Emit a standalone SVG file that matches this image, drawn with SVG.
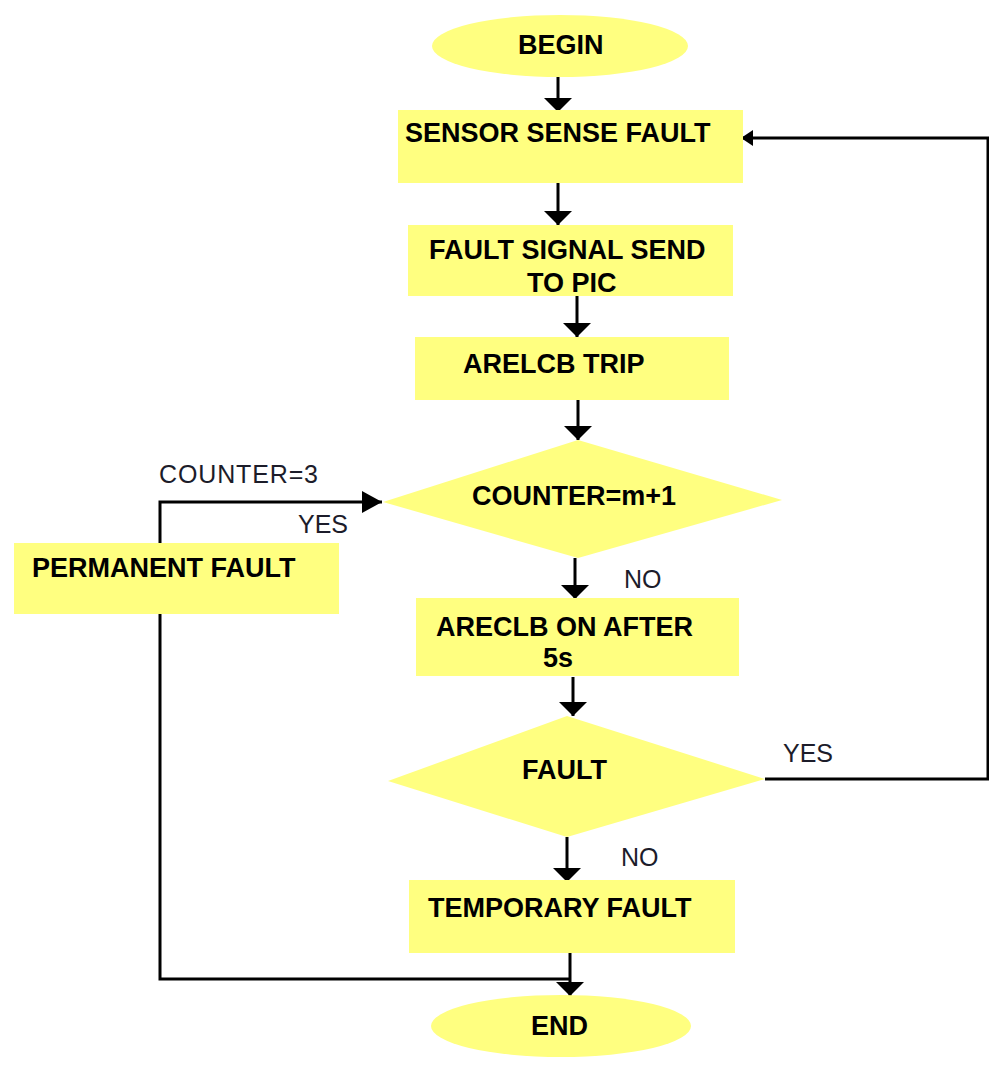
<svg xmlns="http://www.w3.org/2000/svg" width="989" height="1067" viewBox="0 0 989 1067">
  <style>
    .shape { fill: #ffff80; stroke: none; }
    .t { font-family: "Liberation Sans", Arial, sans-serif; font-weight: bold; font-size: 27px; fill: #000; }
    .lbl { font-family: "Liberation Sans", Arial, sans-serif; font-size: 25px; fill: #1c1c2a; }
    .wire { fill: none; stroke: #000; stroke-width: 3; }
  </style>
  <defs>
    <!-- wide flat arrowhead used on the main vertical flow -->
    <marker id="head" markerUnits="userSpaceOnUse" viewBox="0 -14 14 28" markerWidth="14" markerHeight="28" refX="14" refY="0" orient="auto">
      <path d="M0,-14 L14,0 L0,14 z" fill="#000"/>
    </marker>
    <!-- arrowhead entering the counter decision -->
    <marker id="headSide" markerUnits="userSpaceOnUse" viewBox="0 -11 20 22" markerWidth="20" markerHeight="22" refX="20" refY="0" orient="auto">
      <path d="M0,-11 L20,0 L0,11 z" fill="#000"/>
    </marker>
    <!-- small arrowhead on the feedback loop -->
    <marker id="headSmall" markerUnits="userSpaceOnUse" viewBox="0 -8 12 16" markerWidth="12" markerHeight="16" refX="12" refY="0" orient="auto">
      <path d="M0,-8 L12,0 L0,8 z" fill="#000"/>
    </marker>
  </defs>

  <rect width="989" height="1067" fill="#fff"/>

  <g id="connectors">
    <line class="wire" x1="558" y1="77" x2="558" y2="112" marker-end="url(#head)"/>
    <line class="wire" x1="558" y1="183" x2="558" y2="225" marker-end="url(#head)"/>
    <line class="wire" x1="577" y1="296" x2="577" y2="337" marker-end="url(#head)"/>
    <line class="wire" x1="578" y1="400" x2="578" y2="440" marker-end="url(#head)"/>
    <line class="wire" x1="575" y1="558" x2="575" y2="599" marker-end="url(#head)"/>
    <line class="wire" x1="573" y1="677" x2="573" y2="716" marker-end="url(#head)"/>
    <line class="wire" x1="567" y1="837" x2="567" y2="882" marker-end="url(#head)"/>
    <line class="wire" x1="570" y1="953" x2="570" y2="996" marker-end="url(#head)"/>
    <!-- permanent fault loop back into the counter -->
    <path class="wire" d="M160,543 V502 H382" marker-end="url(#headSide)"/>
    <path class="wire" d="M160,614 V979 H570"/>
    <!-- fault still present: back to sensing -->
    <path class="wire" d="M765,779 H988 V138 H741" marker-end="url(#headSmall)"/>
  </g>

  <g id="begin">
    <ellipse class="shape" cx="560" cy="46" rx="128" ry="31"/>
    <text class="t" x="518" y="54">BEGIN</text>
  </g>

  <g id="sensor">
    <rect class="shape" x="398" y="110" width="345" height="73"/>
    <text class="t" x="405" y="142">SENSOR SENSE FAULT</text>
  </g>

  <g id="signal">
    <rect class="shape" x="408" y="225" width="325" height="71"/>
    <text class="t" x="429" y="259">FAULT SIGNAL SEND</text>
    <text class="t" x="527" y="292">TO PIC</text>
  </g>

  <g id="trip">
    <rect class="shape" x="415" y="337" width="314" height="63"/>
    <text class="t" x="463" y="373">ARELCB TRIP</text>
  </g>

  <g id="counter">
    <polygon class="shape" points="383,502 578,440 782,500 578,558"/>
    <text class="t" x="472" y="505">COUNTER=m+1</text>
  </g>

  <g id="permanent">
    <rect class="shape" x="14" y="543" width="325" height="71"/>
    <text class="t" x="32" y="577">PERMANENT FAULT</text>
  </g>

  <g id="reclose">
    <rect class="shape" x="416" y="598" width="323" height="78"/>
    <text class="t" x="436" y="636">ARECLB ON AFTER</text>
    <text class="t" x="543" y="667">5s</text>
  </g>

  <g id="fault">
    <polygon class="shape" points="388,781 567,716 765,779 567,837"/>
    <text class="t" x="522" y="779">FAULT</text>
  </g>

  <g id="temporary">
    <rect class="shape" x="409" y="880" width="326" height="73"/>
    <text class="t" x="428" y="917">TEMPORARY FAULT</text>
  </g>

  <g id="end">
    <ellipse class="shape" cx="561" cy="1026" rx="130" ry="31"/>
    <text class="t" x="531" y="1035">END</text>
  </g>

  <g id="labels">
    <text class="lbl" x="159" y="483" textLength="159">COUNTER=3</text>
    <text class="lbl" x="298" y="533">YES</text>
    <text class="lbl" x="624" y="588">NO</text>
    <text class="lbl" x="783" y="762">YES</text>
    <text class="lbl" x="621" y="866">NO</text>
  </g>
</svg>
